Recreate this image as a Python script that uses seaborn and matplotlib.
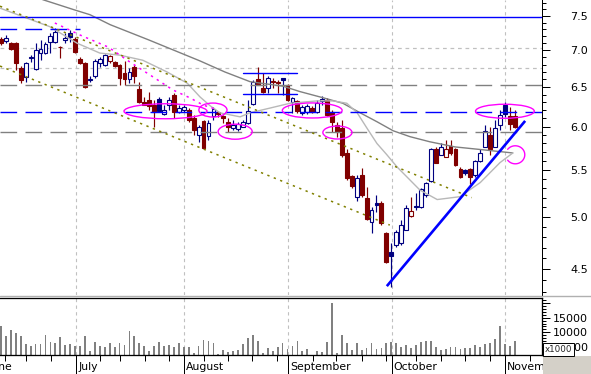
import numpy as np
import pandas as pd
import matplotlib
matplotlib.use("Agg")
import matplotlib.pyplot as plt
import matplotlib.ticker as mticker
from matplotlib.patches import Ellipse, Rectangle
from matplotlib.lines import Line2D
import seaborn as sns

# ---------------- data ----------------
opens = [7.16, 7.13, 7.10, 7.10, 6.75, 6.63, 6.89, 6.74, 6.96, 6.96,
         7.12, 7.12, 7.05, 7.15, 7.25, 7.16, 6.88, 6.82, 6.59, 6.65,
         6.82, 6.79, 6.85, 6.84, 6.79, 6.69, 6.61, 6.77, 6.47, 6.31,
         6.33, 6.27, 6.35, 6.16, 6.27, 6.40, 6.18, 6.21, 6.21, 6.11,
         5.90, 6.07, 5.89, 6.13, 6.18, 6.13, 6.06, 5.98, 5.97, 6.00,
         6.05, 6.28, 6.61, 6.49, 6.49, 6.58, 6.56, 6.62, 6.53, 6.31,
         6.32, 6.17, 6.18, 6.23, 6.18, 6.32, 6.33, 6.18, 6.02, 5.98,
         5.69, 5.43, 5.21, 5.44, 5.20, 4.95, 5.14, 5.14, 4.84, 4.66,
         4.73, 4.75, 4.87, 5.01, 5.11, 5.10, 5.23, 5.38, 5.73, 5.67,
         5.64, 5.77, 5.74, 5.51, 5.50, 5.51, 5.44, 5.60, 5.76, 5.90,
         5.76, 6.02, 6.27, 6.13, 6.13]
highs = [7.19, 7.22, 7.12, 7.12, 6.78, 6.84, 6.93, 7.10, 7.15, 7.12,
         7.25, 7.32, 7.06, 7.25, 7.29, 7.19, 6.91, 6.84, 6.65, 6.88,
         6.91, 6.95, 6.93, 6.85, 6.81, 6.85, 6.75, 6.79, 6.57, 6.37,
         6.44, 6.33, 6.37, 6.27, 6.37, 6.42, 6.27, 6.27, 6.23, 6.14,
         6.02, 6.08, 6.08, 6.24, 6.19, 6.14, 6.11, 6.08, 6.06, 6.08,
         6.33, 6.59, 6.77, 6.69, 6.65, 6.62, 6.59, 6.62, 6.54, 6.37,
         6.33, 6.27, 6.28, 6.26, 6.33, 6.38, 6.36, 6.21, 6.06, 6.08,
         5.73, 5.44, 5.44, 5.52, 5.31, 5.10, 5.23, 5.16, 4.85, 4.75,
         4.87, 4.97, 5.12, 5.21, 5.25, 5.30, 5.37, 5.75, 5.76, 5.81,
         5.84, 5.84, 5.75, 5.53, 5.51, 5.52, 5.61, 5.73, 6.02, 6.00,
         6.08, 6.21, 6.31, 6.24, 6.21]
lows = [7.07, 7.10, 7.00, 6.73, 6.55, 6.57, 6.84, 6.73, 6.86, 6.95,
        6.96, 7.10, 6.89, 7.10, 7.12, 6.96, 6.81, 6.49, 6.57, 6.62,
        6.77, 6.78, 6.82, 6.77, 6.53, 6.53, 6.55, 6.55, 6.29, 6.27,
        6.21, 6.00, 6.19, 6.14, 6.21, 6.11, 6.17, 6.18, 6.06, 5.90,
        5.82, 5.73, 5.84, 6.08, 6.12, 6.05, 5.94, 5.96, 5.95, 5.99,
        6.03, 6.27, 6.53, 6.42, 6.42, 6.49, 6.42, 6.40, 6.32, 6.17,
        6.17, 6.14, 6.16, 6.17, 6.17, 6.27, 6.13, 5.94, 5.88, 5.64,
        5.39, 5.30, 5.16, 5.21, 4.97, 4.84, 5.05, 4.92, 4.56, 4.34,
        4.71, 4.73, 4.87, 5.00, 5.07, 5.09, 5.21, 5.37, 5.58, 5.67,
        5.64, 5.67, 5.54, 5.41, 5.44, 5.34, 5.42, 5.59, 5.76, 5.67,
        5.76, 5.96, 6.12, 5.96, 5.98]
closes = [7.10, 7.17, 7.02, 6.82, 6.59, 6.82, 6.91, 7.00, 7.02, 7.09,
          7.20, 7.26, 7.04, 7.17, 7.19, 6.97, 6.82, 6.50, 6.61, 6.85,
          6.88, 6.93, 6.92, 6.78, 6.62, 6.61, 6.70, 6.65, 6.31, 6.27,
          6.26, 6.18, 6.19, 6.21, 6.33, 6.18, 6.23, 6.24, 6.08, 5.96,
          6.00, 5.75, 6.05, 6.22, 6.16, 6.11, 6.00, 6.02, 6.03, 6.06,
          6.19, 6.57, 6.53, 6.44, 6.62, 6.57, 6.55, 6.59, 6.33, 6.36,
          6.19, 6.24, 6.26, 6.18, 6.29, 6.35, 6.14, 6.06, 5.94, 5.67,
          5.41, 5.32, 5.41, 5.23, 4.98, 5.07, 5.12, 4.94, 4.57, 4.62,
          4.85, 4.92, 5.09, 5.06, 5.10, 5.29, 5.36, 5.74, 5.58, 5.76,
          5.73, 5.69, 5.55, 5.42, 5.47, 5.42, 5.60, 5.69, 5.95, 5.73,
          5.98, 6.14, 6.16, 6.03, 6.00]
volumes = [12085, 8490, 10800, 9750, 8490, 5900, 5350, 5900, 5900, 8840,
           6500, 6260, 8250, 5560, 5900, 5350, 5350, 8700, 3360, 6500,
           5350, 5000, 6260, 5000, 6150, 5700, 10340, 8700, 6150, 5350,
           3360, 5350, 6500, 5350, 5560, 5000, 6150, 5000, 4760, 2660,
           5350, 7300, 6850, 6150, 2420, 3820, 3250, 3360, 3820, 5900,
           8000, 8840, 6850, 2660, 4520, 3600, 4760, 6150, 4170, 5100,
           6850, 3360, 4060, 2100, 3360, 3010, 6500, 20110, 2660, 8940,
           6150, 3710, 6150, 3710, 4520, 6150, 4170, 4520, 6150, 6500,
           6150, 5000, 5450, 4520, 5450, 6500, 6850, 7090, 5000, 3820,
           4170, 5000, 4760, 4170, 4520, 4520, 5450, 4760, 5900, 6150,
           7550, 12085, 5900, 5200, 6850]

# moving averages (day index, price)
ma_long_idx = [6.9, 8.5, 15.0, 18.0, 22.1, 29.8, 40.3, 45.3, 50.4, 57.1,
               60.5, 65.2, 69.2, 72.7, 76.1, 79.4, 82.8, 86.8, 91.9, 97.0, 103.6]
ma_long_val = [7.81, 7.75, 7.59, 7.52, 7.37, 7.15, 6.85, 6.70, 6.57, 6.51,
               6.44, 6.36, 6.29, 6.17, 6.06, 5.95, 5.88, 5.82, 5.76, 5.73, 5.69]
ma_short_idx = [-0.2, 9.9, 15.4, 20.0, 24.1, 28.7, 33.6, 37.7, 40.3, 42.3,
                44.3, 48.4, 50.4, 54.5, 58.5, 64.0, 67.2, 70.0, 72.1, 74.1,
                76.1, 78.1, 80.2, 82.2, 84.8, 88.3, 92.9, 97.0, 101.0, 103.6]
ma_short_val = [7.62, 7.34, 7.10, 6.96, 6.93, 6.86, 6.70, 6.55, 6.37, 6.26,
                6.17, 6.12, 6.17, 6.23, 6.29, 6.32, 6.32, 6.29, 6.17, 5.98,
                5.80, 5.67, 5.53, 5.42, 5.28, 5.18, 5.21, 5.36, 5.58, 5.69]

# hand-drawn annotations (day index, price)
blue_trend = ([78.1, 106.1], [4.35, 6.07])
olive_upper = ([-0.2, 95.3], [7.65, 5.20])
olive_lower = ([-0.2, 78.7], [6.78, 4.92])
magenta_idx = [10.9, 16.0, 21.7, 26.1, 30.8, 34.8, 38.3, 40.9, 43.3]
magenta_val = [7.395, 7.218, 7.045, 6.835, 6.632, 6.461, 6.357, 6.268, 6.218]
blue_full_solid = [7.486]
blue_full_dashed = [6.174]
gray_full_dashed = [6.52, 5.94]
silver_full_dashed = [7.03, 6.75]
blue_short_dashed = (7.31, -0.2, 16.0)
blue_short_solid = [(6.681, 49.0, 59.9), (6.409, 49.0, 59.9)]
ellipses = [(33.3, 6.19, 16.8, 0.187), (42.9, 6.205, 5.7, 0.175),
            (47.4, 5.94, 6.9, 0.18), (63.0, 6.20, 12.1, 0.188),
            (68.1, 5.93, 5.9, 0.155), (102.0, 6.19, 11.9, 0.175)]
open_circle = (104.1, 5.67, 3.85, 0.206)

months = ["June", "July", "August", "September", "October", "November"]
month_pos = [-2.9, 15.2, 37.0, 58.1, 79.1, 102.0]
week_pos = [0.8, 5.0, 10.1, 20.1, 24.1, 29.2, 34.1, 41.0, 46.0, 50.9, 55.9,
            63.1, 67.9, 73.0, 78.0, 84.1, 89.1, 94.0, 99.0, 107.0]
price_major = [4.5, 5.0, 5.5, 6.0, 6.5, 7.0, 7.5]
vol_major = [5000, 10000, 15000, 20000]
vol_labels = ["5000", "10000", "15000", ""]

# ---------------- figure ----------------
sns.set_theme(style="white")
plt.rcParams['font.family'] = ['DejaVu Sans']

W, H = 591, 374
PX = 0.72
RED, NAVY = "#800000", "#000080"
fig = plt.figure(figsize=(W / 100, H / 100), dpi=100)
fig.patch.set_facecolor("white")
ax = fig.add_axes([0, 1 - 295 / H, 542 / W, 295 / H])
axv = fig.add_axes([0, 1 - 355 / H, 542 / W, 57 / H])

n = len(closes)
idx = np.arange(n)
df = pd.DataFrame({"i": idx, "o": opens, "h": highs, "l": lows, "c": closes, "v": volumes})
prev = df["c"].shift(1).fillna(df["o"])
df["up"] = df["c"] >= prev
df["hollow"] = df["c"] > df["o"]

ax.set_yscale("log")
XL = (-0.2024, 109.51)

# month grid
for a in (ax, axv):
    for p in month_pos:
        a.axvline(p, color="#c0c0c0", lw=0.8, ls=(0, (3, 3)), zorder=1)

# candles
for _, r in df.iterrows():
    col = NAVY if r["up"] else RED
    ax.vlines(r["i"], r["l"], r["h"], color=col, lw=0.85, zorder=2)
    lo, hi = min(r["o"], r["c"]), max(r["o"], r["c"])
    hgt = max(hi - lo, 0.004)
    ax.bar(r["i"], hgt, bottom=lo, width=0.78,
           facecolor="white" if r["hollow"] else col,
           edgecolor=col, linewidth=0.8, zorder=2.5)

# moving averages
sns.lineplot(x=ma_long_idx, y=ma_long_val, ax=ax, color="#808080", lw=1.0,
             estimator=None, sort=False, zorder=3)
sns.lineplot(x=ma_short_idx, y=ma_short_val, ax=ax, color="#b8b8b8", lw=1.0,
             estimator=None, sort=False, zorder=3)

# horizontal levels
for y in blue_full_solid:
    ax.axhline(y, color="#0000ff", lw=1.0, zorder=3)
for y in blue_full_dashed:
    ax.axhline(y, color="#0000ff", lw=1.0, ls=(0, (12, 6)), zorder=3)
for y in gray_full_dashed:
    ax.axhline(y, color="#808080", lw=1.0, ls=(0, (12, 6)), zorder=3)
for y in silver_full_dashed:
    ax.axhline(y, color="#c0c0c0", lw=0.9, ls=(0, (3, 3)), zorder=1.5)
yv, x0, x1 = blue_short_dashed
ax.plot([x0, x1], [yv, yv], color="#0000ff", lw=1.0, ls=(0, (12, 6)), zorder=3)
for yv, x0, x1 in blue_short_solid:
    ax.plot([x0, x1], [yv, yv], color="#0000ff", lw=1.0, zorder=3)

# trend lines
ax.plot(*olive_upper, color="#808000", lw=1.1, ls=(0, (1.5, 3)), zorder=3)
ax.plot(*olive_lower, color="#808000", lw=1.1, ls=(0, (1.5, 3)), zorder=3)
ax.plot(magenta_idx, magenta_val, color="#ff00ff", lw=1.1, ls=(0, (1.5, 3)), zorder=3)
ax.plot(*blue_trend, color="#0000ff", lw=1.9, zorder=4, solid_capstyle="butt")

# ellipses
for cx, cy, w, h in ellipses:
    ax.add_patch(Ellipse((cx, cy), w, h, fill=False, ec="#ff00ff", lw=1.0, zorder=4))
cx, cy, w, h = open_circle
t = np.linspace(-2.5, 2.5, 60)
ax.plot(cx + w / 2 * np.cos(t), cy + h / 2 * np.sin(t), color="#ff00ff", lw=1.0, zorder=4)

ax.set_xlim(*XL)
ax.set_ylim(4.273, 7.746)
ax.yaxis.set_major_locator(mticker.FixedLocator(price_major))
ax.yaxis.set_major_formatter(mticker.FuncFormatter(lambda v, p: f"{v:.1f}"))
minors = [round(v, 1) for v in np.arange(4.3, 7.75, 0.1) if round(v, 1) not in price_major]
ax.yaxis.set_minor_locator(mticker.FixedLocator(minors))
ax.yaxis.set_minor_formatter(mticker.NullFormatter())
ax.yaxis.tick_right()
ax.tick_params(axis="y", which="major", direction="out", length=8 * PX, width=PX,
               color="black", labelcolor="black", labelsize=8, pad=38 * PX,
               right=True, left=False)
ax.tick_params(axis="y", which="minor", direction="out", length=4 * PX, width=PX,
               color="black", right=True, left=False)
for tk in ax.yaxis.get_major_ticks():
    tk.label2.set_horizontalalignment("right")
ax.set_xticks([])
ax.set_xlabel("")
ax.set_ylabel("")
for s in ("left", "top", "bottom"):
    ax.spines[s].set_visible(False)
ax.spines["right"].set_color("black")
ax.spines["right"].set_linewidth(PX)
ax.set_facecolor("white")

# volume
sns.barplot(x=idx, y=volumes, ax=axv, native_scale=True, color="#808080",
            width=0.36, saturation=1, errorbar=None, linewidth=0, edgecolor="none", zorder=2)
axv.set_xlim(*XL)
axv.set_ylim(2070, 21850)
axv.yaxis.set_major_locator(mticker.FixedLocator(vol_major))
axv.yaxis.set_major_formatter(mticker.FixedFormatter(vol_labels))
axv.yaxis.set_minor_locator(mticker.MultipleLocator(1000))
axv.yaxis.tick_right()
axv.tick_params(axis="y", which="major", direction="out", length=8 * PX, width=PX,
                color="black", labelcolor="black", labelsize=8, pad=38 * PX,
                right=True, left=False)
axv.tick_params(axis="y", which="minor", direction="out", length=4 * PX, width=PX,
                color="black", right=True, left=False)
for tk in axv.yaxis.get_major_ticks():
    tk.label2.set_horizontalalignment("right")
axv.xaxis.set_major_locator(mticker.FixedLocator(month_pos))
axv.xaxis.set_major_formatter(mticker.NullFormatter())
axv.xaxis.set_minor_locator(mticker.FixedLocator(week_pos))
axv.tick_params(axis="x", which="major", direction="out", length=19 * PX, width=PX,
                color="black", bottom=True)
axv.tick_params(axis="x", which="minor", direction="out", length=5.7 * PX, width=PX,
                color="black", bottom=True)
axv.set_xlabel("")
axv.set_ylabel("")
axv.spines["left"].set_visible(False)
for s in ("top", "bottom", "right"):
    axv.spines[s].set_color("black")
    axv.spines[s].set_linewidth(PX * 1.3)
axv.set_facecolor("white")

for name, p in zip(months, month_pos):
    axv.annotate(name, xy=(p, 0), xycoords=axv.get_xaxis_transform(),
                 xytext=(2 * PX, -15 * PX), textcoords="offset points",
                 ha="left", va="baseline", fontsize=7.8, color="black",
                 annotation_clip=False)

# separator line and corner box
fig.add_artist(Line2D([0, 1], [1 - 295.5 / H] * 2, transform=fig.transFigure,
                      color="#b0b0b0", lw=1.0, zorder=5))
fig.add_artist(Rectangle((543 / W, 0), 48 / W, 18.3 / H, transform=fig.transFigure,
                         fc="#d4d0c8", ec="none", zorder=9))
fig.text(545 / W, 1 - 349.5 / H, "x1000", fontsize=6.3, ha="left", va="center",
         zorder=10, bbox=dict(boxstyle="square,pad=0.18", fc="white", ec="black", lw=0.7))

fig.savefig("out.png", dpi=100, facecolor="white")
